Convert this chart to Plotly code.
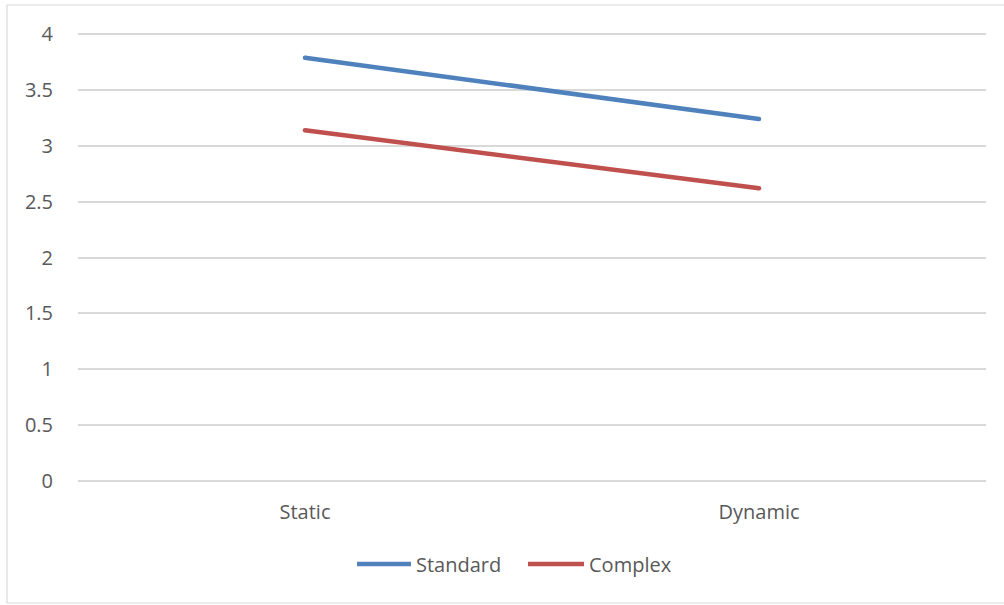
import plotly.graph_objects as go

categories = ["Static", "Dynamic"]
standard = [3.79, 3.24]
complex_ = [3.14, 2.62]
series_names = ["Standard", "Complex"]
y_ticks = [0, 0.5, 1, 1.5, 2, 2.5, 3, 3.5, 4]
y_tick_labels = ["0", "0.5", "1", "1.5", "2", "2.5", "3", "3.5", "4"]

BLUE = "#4F81BD"
RED = "#C0504D"
TEXT = "#595959"
GRID = "#D9D9D9"
FONT = "Open Sans"
FS = 20

W, H = 1004, 605
L, R, T, B = 78, 18, 32, 122
pw, ph = W - L - R, H - T - B


def px_x(x):
    return (x - L) / pw


def px_y(y):
    return (H - B - y) / ph


fig = go.Figure()
for name, vals, col in [(series_names[0], standard, BLUE), (series_names[1], complex_, RED)]:
    fig.add_trace(go.Scatter(
        x=categories, y=vals, name=name, mode="lines+markers",
        line=dict(color=col, width=4.5),
        marker=dict(color=col, size=4.5, line=dict(width=0)),
        showlegend=False, hoverinfo="x+y+name",
    ))

shapes = [
    # outer chart border
    dict(type="rect", xref="paper", yref="paper",
         x0=px_x(7), x1=px_x(1012), y0=px_y(603), y1=px_y(5),
         line=dict(color=GRID, width=1.2), fillcolor="rgba(0,0,0,0)", layer="below"),
]
annotations = []

# legend drawn as line swatches with labels
legend_items = [(series_names[0], BLUE, 357, 411, 414), (series_names[1], RED, 528, 584, 587)]
for name, col, x0, x1, tx in legend_items:
    shapes.append(dict(type="line", xref="paper", yref="paper",
                       x0=px_x(x0), x1=px_x(x1), y0=px_y(564), y1=px_y(564),
                       line=dict(color=col, width=4.5)))
    annotations.append(dict(xref="paper", yref="paper", x=px_x(tx), y=px_y(564),
                            text=name, showarrow=False, xanchor="left", yanchor="middle",
                            font=dict(family=FONT, size=FS, color=TEXT)))

fig.update_layout(
    width=W, height=H,
    margin=dict(l=L, r=R, t=T, b=B, pad=0),
    paper_bgcolor="white", plot_bgcolor="white",
    shapes=shapes, annotations=annotations,
    font=dict(family=FONT, size=FS, color=TEXT),
    xaxis=dict(
        type="category", range=[-0.5, 1.5], showgrid=False, zeroline=False,
        showline=False, ticks="", ticklabelstandoff=15,
        tickfont=dict(family=FONT, size=FS, color=TEXT),
    ),
    yaxis=dict(
        range=[-0.02, 4.02], tickvals=y_ticks, ticktext=y_tick_labels,
        showgrid=True, gridcolor=GRID, gridwidth=1.5,
        zeroline=True, zerolinecolor=GRID, zerolinewidth=1.5,
        showline=False, ticks="", ticklabelstandoff=24,
        tickfont=dict(family=FONT, size=FS, color=TEXT),
    ),
)

fig.write_html("out.html")
